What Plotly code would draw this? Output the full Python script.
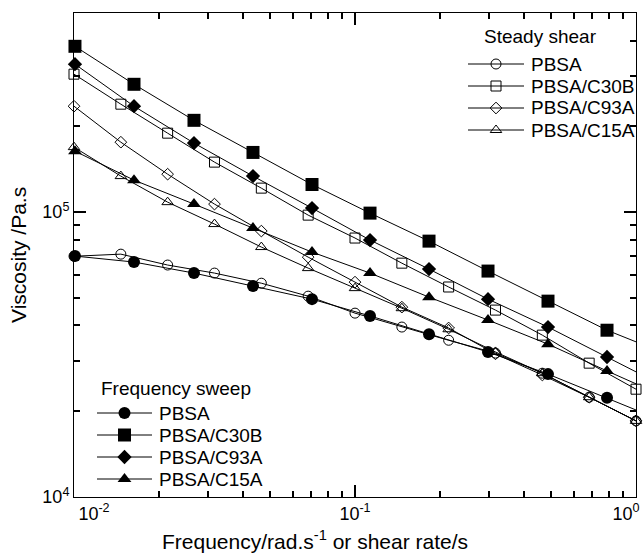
import plotly.graph_objects as go

# ---- data ----
steady_x = [0.01, 0.01468, 0.02154, 0.03162, 0.04642, 0.06813, 0.1, 0.1468,
            0.2154, 0.3162, 0.4642, 0.6813, 1.0]
steady_pbsa = [70000, 71200, 65200, 61100, 56300, 50700, 44200, 39500, 35500,
               32000, 27200, 22400, 18500]
steady_c30b = [305000, 239300, 189300, 149800, 121400, 97600, 81100, 66200,
               54600, 45300, 37000, 29500, 23900]
steady_c93a = [235400, 176000, 135900, 106700, 85800, 69500, 56800, 46400,
               39200, 31800, 26800, 22400, 18500]
steady_c15a = [169100, 133800, 108400, 90800, 75400, 63600, 54100, 46000,
               38800, 32300, 27200, 22400, 18500]

freq_x = [0.01008, 0.01635, 0.02673, 0.04335, 0.07031, 0.1131, 0.1834, 0.2974,
          0.4862, 0.7886, 1.279]
freq_pbsa = [70100, 66800, 61100, 55000, 49500, 43200, 37300, 32300, 27000,
             22300, 18300]
freq_c30b = [382000, 281000, 210000, 162000, 125000, 99200, 79100, 62100,
             48700, 38500, 31800]
freq_c93a = [330600, 235400, 174700, 133800, 103300, 79800, 63100, 49500,
             39500, 31000, 24300]
freq_c15a = [163700, 129500, 106700, 87900, 72400, 61100, 50300, 41800,
             34400, 27700, 22400]

names = ["PBSA", "PBSA/C30B", "PBSA/C93A", "PBSA/C15A"]
legend_titles = ["Steady shear", "Frequency sweep"]
x_title = "Frequency/rad.s<sup>-1</sup> or shear rate/s"
y_title = "Viscosity /Pa.s"
NB = "\u00a0"
x_tickvals = [0.01, 0.1, 1]
x_ticktext = [NB * 8 + "10<sup>-2</sup>", "10<sup>-1</sup>", "10<sup>0</sup>" + NB * 4]
y_tickvals = [1e4, 1e5]
y_ticktext = ["10<sup>4</sup>", "10<sup>5</sup>"]
minor_x = [k * 10.0 ** e for e in (-2, -1) for k in range(2, 10)]
minor_y = [k * 10.0 ** e for e in (4, 5) for k in range(2, 10)]

FONT = "Liberation Sans, Arial, sans-serif"

# plot-area geometry (pixels) used for layout only
W, H = 643, 553
L, R, T, B = 74, 7, 13, 56
PW, PH = W - L - R, H - T - B


def fx(px):
    return (px - L) / PW


def fy(py):
    return (H - B - py) / PH


fig = go.Figure()

steady_series = [steady_pbsa, steady_c30b, steady_c93a, steady_c15a]
steady_symbols = ["circle-open", "square-open", "diamond-open", "triangle-up-open"]
steady_sizes = [10, 10, 9, 10]
freq_series = [freq_pbsa, freq_c30b, freq_c93a, freq_c15a]
freq_symbols = ["circle", "square", "diamond", "triangle-up"]
freq_sizes = [12, 13, 11, 12]

for nm, ys, sym, sz in zip(names, steady_series, steady_symbols, steady_sizes):
    fig.add_trace(go.Scatter(
        x=steady_x, y=ys, name=nm, mode="lines+markers", showlegend=False,
        line=dict(color="black", width=1),
        marker=dict(symbol=sym, size=sz, color="black", line=dict(width=1, color="black")),
        cliponaxis=False))

for nm, ys, sym, sz in zip(names, freq_series, freq_symbols, freq_sizes):
    fig.add_trace(go.Scatter(
        x=freq_x, y=ys, name=nm, mode="lines+markers", showlegend=False,
        line=dict(color="black", width=1),
        marker=dict(symbol=sym, size=sz, color="black", line=dict(width=0)),
        cliponaxis=False))

# ---- legend boxes drawn on an overlay axis (plot-area fractions) ----
LEG_FONT = dict(family=FONT, size=19, color="black")
legend_specs = [
    (legend_titles[0], 482, 36, 468, 524, 529, [64, 86, 108, 130],
     steady_symbols, steady_sizes, True),
    (legend_titles[1], 99, 388, 97, 152, 157, [413, 435, 457, 479],
     freq_symbols, freq_sizes, False),
]
annotations = []
for title, tx, ty, lx0, lx1, txt_x, rows, syms, sizes, is_open in legend_specs:
    annotations.append(dict(text=title, x=fx(tx), y=fy(ty), xref="paper", yref="paper",
                            xanchor="left", yanchor="middle", showarrow=False,
                            font=LEG_FONT))
    for nm, ry, sym, sz in zip(names, rows, syms, sizes):
        fig.add_trace(go.Scatter(
            x=[fx(lx0), fx(lx1)], y=[fy(ry), fy(ry)], mode="lines",
            line=dict(color="black", width=1), xaxis="x2", yaxis="y2",
            showlegend=False, hoverinfo="skip"))
        fig.add_trace(go.Scatter(
            x=[fx((lx0 + lx1) / 2)], y=[fy(ry)], mode="markers",
            marker=dict(symbol=sym, size=sz, color="black",
                        line=dict(width=1 if is_open else 0, color="black")),
            xaxis="x2", yaxis="y2", showlegend=False, hoverinfo="skip"))
        annotations.append(dict(text=nm, x=fx(txt_x), y=fy(ry), xref="paper",
                                yref="paper", xanchor="left", yanchor="middle",
                                showarrow=False, font=LEG_FONT))

# axis titles
annotations.append(dict(text=x_title, x=fx(315), y=fy(540), xref="paper", yref="paper",
                        xanchor="center", yanchor="middle", showarrow=False,
                        font=dict(family=FONT, size=21, color="black")))
annotations.append(dict(text=y_title, x=fx(18), y=fy(255), xref="paper", yref="paper",
                        xanchor="center", yanchor="middle", showarrow=False,
                        textangle=-90, font=dict(family=FONT, size=21, color="black")))

axis_common = dict(
    type="log", showline=True, linecolor="black", linewidth=1,
    mirror="ticks", ticks="inside", ticklen=12, tickwidth=2,
    tickcolor="black", automargin=False,
    ticklabeloverflow="allow",
    tickfont=dict(family=FONT, size=18, color="black"),
)

fig.update_layout(
    template="simple_white",
    width=W, height=H,
    margin=dict(l=L, r=R, t=T, b=B),
    paper_bgcolor="white", plot_bgcolor="white",
    font=dict(family=FONT, size=18, color="black"),
    xaxis=dict(axis_common, range=[-2, 0], tickvals=x_tickvals, ticktext=x_ticktext,
               minor=dict(ticks="inside", ticklen=6, tickwidth=2, tickcolor="black",
                          tickvals=minor_x)),
    yaxis=dict(axis_common, range=[4, 5.699], tickvals=y_tickvals, ticktext=y_ticktext,
               minor=dict(ticks="inside", ticklen=6, tickwidth=2, tickcolor="black",
                          tickvals=minor_y)),
    xaxis2=dict(overlaying="x", range=[0, 1], visible=False, fixedrange=True),
    yaxis2=dict(overlaying="y", range=[0, 1], visible=False, fixedrange=True),
    annotations=annotations,
)

fig.write_html("out.html")
